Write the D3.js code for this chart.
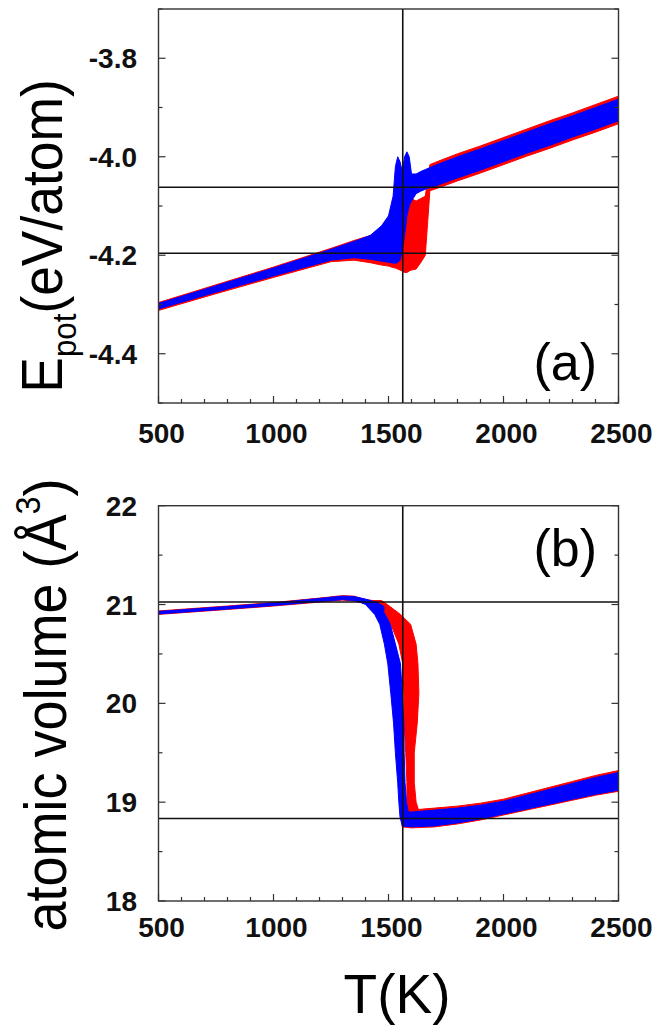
<!DOCTYPE html>
<meta charset="utf-8">
<style>
	body { margin: 0; background: #fff; }
	svg { display: block; }
	.frame { fill: none; stroke: #333; stroke-width: 1.4px; }
	.ref { stroke: #111; stroke-width: 1.6px; }
	.ticks line { stroke: #333; stroke-width: 1.2px; }
	.ticklab { font: bold 28px "Liberation Sans", Arial, sans-serif; fill: #111; }
	.lab { font-family: "Liberation Sans", Arial, sans-serif; fill: #000; }
</style>
<body>
<script src="https://d3js.org/d3.v7.min.js"></script>
<script>

// tick labels
var tempTicks = [500, 1000, 1500, 2000, 2500];
var epotTicks = [-4.4, -4.2, -4.0, -3.8];
var volTicks = [18, 19, 20, 21, 22];

// reference lines
var meltT = 1562;
var epotRefs = [-4.062, -4.196];
var volRefs = [21.025, 18.835];

// panel (a): E_pot band (low / high edge of the noisy trace) vs T
var epotT      = [500, 750, 1000, 1250, 1350, 1420, 1470, 1500, 1520, 1530, 1540, 1550, 1560, 1570, 1580, 1590, 1600, 1620, 1640, 1660, 1680, 1700, 1800, 1900, 2000, 2100, 2200, 2300, 2400, 2500];
var epotRedLo  = [-4.312, -4.278, -4.245, -4.213, -4.21, -4.215, -4.22, -4.222, -4.225, -4.226, -4.228, -4.23, -4.232, -4.235, -4.235, -4.232, -4.23, -4.228, -4.215, -4.2, -4.069, -4.066, -4.049, -4.033, -4.016, -3.999, -3.983, -3.966, -3.95, -3.933];
var epotRedHi  = [-4.296, -4.26, -4.224, -4.186, -4.17, -4.16, -4.15, -4.14, -4.12, -4.1, -4.08, -4.06, -4.05, -4.06, -4.07, -4.08, -4.085, -4.09, -4.085, -4.08, -4.016, -4.012, -3.994, -3.978, -3.961, -3.944, -3.927, -3.911, -3.894, -3.877];
var epotBlueLo = [-4.309, -4.275, -4.242, -4.21, -4.205, -4.208, -4.212, -4.214, -4.216, -4.216, -4.215, -4.21, -4.19, -4.16, -4.12, -4.1, -4.09, -4.075, -4.07, -4.066, -4.063, -4.06, -4.043, -4.027, -4.01, -3.993, -3.977, -3.96, -3.944, -3.927];
var epotBlueHi = [-4.298, -4.262, -4.226, -4.188, -4.172, -4.16, -4.14, -4.12, -4.08, -4.02, -4.0, -4.01, -4.03, -4.0, -3.99, -4.0, -4.035, -4.035, -4.03, -4.026, -4.022, -4.018, -4.0, -3.984, -3.967, -3.95, -3.933, -3.917, -3.9, -3.883];

// panel (b): atomic volume, crystal branch vs T
var volSolidT      = [500, 800, 1000, 1200, 1300, 1350, 1400, 1450, 1480];
var volRedSolidLo  = [20.9, 20.95, 20.985, 21.025, 21.045, 21.035, 21.01, 21.0, 20.98];
var volRedSolidHi  = [20.935, 20.985, 21.02, 21.065, 21.09, 21.085, 21.05, 21.035, 21.025];
var volBlueSolidLo = [20.905, 20.955, 20.99, 21.03, 21.05, 21.04, 21.01, 20.97, 20.93];
var volBlueSolidHi = [20.93, 20.98, 21.015, 21.062, 21.085, 21.08, 21.055, 21.02, 20.98];

// collapse: T range (left / right edge) at each volume
var volDropV   = [21.04, 21.0, 20.9, 20.8, 20.6, 20.4, 20.1, 19.8, 19.5, 19.2, 19.0, 18.85, 18.76];
var volRedTLo  = [1420, 1450, 1480, 1510, 1545, 1562, 1567, 1568, 1575, 1580, 1580, 1580, 1585];
var volRedTHi  = [1470, 1495, 1552, 1596, 1620, 1628, 1632, 1625, 1612, 1612, 1620, 1640, 1640];
var volBlueTLo = [1360, 1400, 1440, 1462, 1482, 1497, 1510, 1522, 1530, 1540, 1545, 1550, 1560];
var volBlueTHi = [1420, 1460, 1485, 1508, 1530, 1552, 1560, 1567, 1568, 1572, 1578, 1590, 1600];

// liquid branch vs T
var volLiqT      = [1560, 1600, 1700, 1800, 1900, 2000, 2100, 2200, 2300, 2400, 2500];
var volRedLiqLo  = [18.75, 18.74, 18.75, 18.78, 18.82, 18.87, 18.92, 18.97, 19.02, 19.07, 19.11];
var volRedLiqHi  = [18.92, 18.92, 18.94, 18.96, 18.99, 19.03, 19.09, 19.15, 19.21, 19.27, 19.32];
var volBlueLiqLo = [18.76, 18.75, 18.76, 18.79, 18.83, 18.88, 18.93, 18.98, 19.03, 19.08, 19.12];
var volBlueLiqHi = [18.9, 18.9, 18.92, 18.94, 18.97, 19.01, 19.07, 19.13, 19.19, 19.25, 19.3];

var width = 658, height = 1029;
var left = 158.5, right = 618.5;

var svg = d3.select("body").append("svg")
	.attr("width", width)
	.attr("height", height);

var x = d3.scaleLinear().domain([500, 2500]).range([left, right]);
var yE = d3.scaleLinear().domain([-4.5, -3.7]).range([403, 9]);
var yV = d3.scaleLinear().domain([18, 22]).range([901, 505.7]);

function rows(a, lo, hi) {
	return a.map(function(v, i) { return {k: v, lo: lo[i], hi: hi[i]}; });
}

function bandT(y) {
	return d3.area().x(function(d) { return x(d.k); })
		.y0(function(d) { return y(d.lo); })
		.y1(function(d) { return y(d.hi); });
}
function bandV(y) {
	return d3.area().y(function(d) { return y(d.k); })
		.x0(function(d) { return x(d.lo); })
		.x1(function(d) { return x(d.hi); });
}

function drawBand(g, gen, data, color) {
	g.append("path").datum(data)
		.attr("d", gen)
		.attr("fill", color)
		.attr("stroke", color)
		.attr("stroke-width", 1)
		.attr("stroke-linejoin", "round");
}

function panel(y, majors, refs, labelY) {
	var g = svg.append("g");
	var top = y.range()[1], bot = y.range()[0];
	return {
		g: g,
		finish: function() {
			// reference lines sit on top of the traces
			g.selectAll("line.h").data(refs).enter().append("line")
				.attr("class", "ref")
				.attr("x1", left).attr("x2", right)
				.attr("y1", function(d) { return y(d); })
				.attr("y2", function(d) { return y(d); });
			g.append("line").attr("class", "ref")
				.attr("x1", x(meltT)).attr("x2", x(meltT))
				.attr("y1", top).attr("y2", bot);

			var t = g.append("g").attr("class", "ticks");
			// x ticks along the bottom, pointing in
			x.ticks(20).forEach(function(v) {
				var len = tempTicks.indexOf(v) >= 0 ? 7 : 4;
				t.append("line").attr("x1", x(v)).attr("x2", x(v))
					.attr("y1", bot).attr("y2", bot - len);
			});
			// y ticks on both sides
			y.ticks(8).forEach(function(v) {
				var major = majors.some(function(m) { return Math.abs(m - v) < 1e-6; });
				var len = major ? 7 : 4;
				t.append("line").attr("x1", left).attr("x2", left + len)
					.attr("y1", y(v)).attr("y2", y(v));
				t.append("line").attr("x1", right).attr("x2", right - len)
					.attr("y1", y(v)).attr("y2", y(v));
			});

			g.append("rect").attr("class", "frame")
				.attr("x", left).attr("y", top)
				.attr("width", right - left).attr("height", bot - top);

			g.selectAll("text.xl").data(tempTicks).enter().append("text")
				.attr("class", "ticklab")
				.attr("x", function(d) { return x(d) + 3; })
				.attr("y", labelY)
				.attr("text-anchor", "middle")
				.text(function(d) { return d; });

			g.selectAll("text.yl").data(majors).enter().append("text")
				.attr("class", "ticklab")
				.attr("x", 137)
				.attr("y", function(d) { return y(d); })
				.attr("dy", "0.36em")
				.attr("text-anchor", "end")
				.text(function(d) { return y === yE ? d.toFixed(1) : d; });
		}
	};
}

// panel (a)
var pa = panel(yE, epotTicks, epotRefs, 443);
drawBand(pa.g, bandT(yE), rows(epotT, epotRedLo, epotRedHi), "#ff0000");
drawBand(pa.g, bandT(yE), rows(epotT, epotBlueLo, epotBlueHi), "#0000ff");
pa.finish();

// panel (b)
var pb = panel(yV, volTicks, volRefs, 937);
drawBand(pb.g, bandT(yV), rows(volSolidT, volRedSolidLo, volRedSolidHi), "#ff0000");
drawBand(pb.g, bandV(yV), rows(volDropV, volRedTLo, volRedTHi), "#ff0000");
drawBand(pb.g, bandT(yV), rows(volLiqT, volRedLiqLo, volRedLiqHi), "#ff0000");
drawBand(pb.g, bandT(yV), rows(volSolidT, volBlueSolidLo, volBlueSolidHi), "#0000ff");
drawBand(pb.g, bandV(yV), rows(volDropV, volBlueTLo, volBlueTHi), "#0000ff");
drawBand(pb.g, bandT(yV), rows(volLiqT, volBlueLiqLo, volBlueLiqHi), "#0000ff");
pb.finish();

// panel tags
svg.append("text").attr("class", "lab").attr("x", 597).attr("y", 380)
	.attr("text-anchor", "end").attr("font-size", 52).text("(a)");
svg.append("text").attr("class", "lab").attr("x", 597).attr("y", 566)
	.attr("text-anchor", "end").attr("font-size", 52).text("(b)");

// axis titles
var ya = svg.append("text").attr("class", "lab")
	.attr("transform", "translate(62,236) rotate(-90) scale(0.92,1)")
	.attr("text-anchor", "middle").attr("font-size", 58);
ya.append("tspan").text("E");
ya.append("tspan").attr("font-size", 34).attr("dy", 14).text("pot");
ya.append("tspan").attr("dy", -14).text("(eV/atom)");

var yb = svg.append("text").attr("class", "lab")
	.attr("transform", "translate(66,705) rotate(-90) scale(0.9,1)")
	.attr("text-anchor", "middle").attr("font-size", 60);
yb.append("tspan").text("atomic volume (\u00c5");
yb.append("tspan").attr("font-size", 36).attr("dy", -26).text("3");
yb.append("tspan").attr("dy", 26).text(")");

svg.append("text").attr("class", "lab").attr("x", 397).attr("y", 1013)
	.attr("text-anchor", "middle").attr("font-size", 55).text("T(K)");

</script>
</body>
</html>
